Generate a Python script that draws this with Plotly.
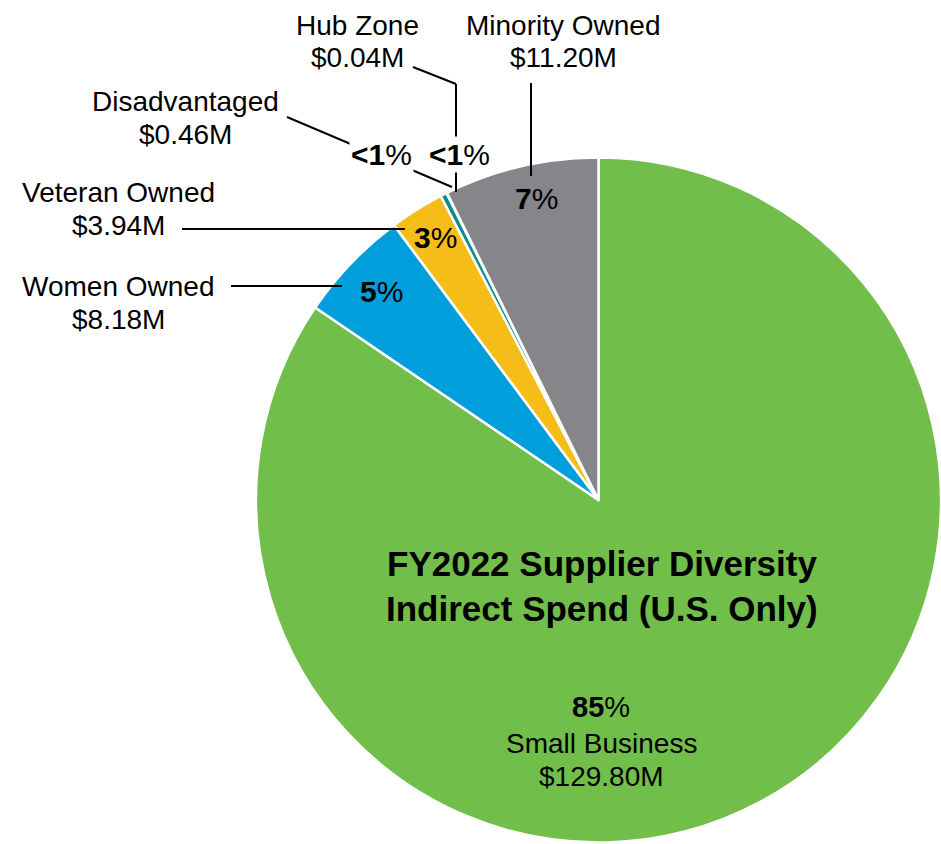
import plotly.graph_objects as go

# FY2022 supplier diversity indirect spend (U.S. only), $ millions
categories = ["Small Business", "Women Owned", "Veteran Owned",
              "Disadvantaged", "Hub Zone", "Minority Owned"]
spend_musd = [129.80, 8.18, 3.94, 0.46, 0.04, 11.20]
share_labels = ["85", "5", "3", "<1", "<1", "7"]  # published share of total, %
slice_colors = ["#72be4a", "#009fdb", "#f6bd18", "#0f8b8c", "#1b5f78", "#868589"]

W, H = 941, 844
FONT = "Liberation Sans, Arial, Helvetica, sans-serif"


def pct_text(i):
    return f"<b>{share_labels[i].replace('<', '&lt;')}</b>%"


def money_text(v):
    return f"${v:.2f}M"


def px(x, y):
    """pixel position -> paper coordinates"""
    return x / W, 1 - y / H


fig = go.Figure(go.Pie(
    labels=categories,
    values=spend_musd,
    sort=False,
    direction="clockwise",
    rotation=0,
    marker=dict(colors=slice_colors, line=dict(color="white", width=2.5)),
    textinfo="none",
    hoverinfo="label+value",
    showlegend=False,
    domain=dict(x=[256 / W, 1.0], y=[1 - (500 + 342.5) / H, 1 - (500 - 342.5) / H]),
))

annotations = []


def add_text(text, x, y, size=28, bg=None):
    ax, ay = px(x, y)
    a = dict(text=text, x=ax, y=ay, xref="paper", yref="paper",
             xanchor="center", yanchor="middle", showarrow=False,
             font=dict(family=FONT, size=size, color="black"))
    if bg:
        a["bgcolor"] = bg
    annotations.append(a)


idx = {c: i for i, c in enumerate(categories)}

# outside labels: name and amount, two lines each
label_pos = {
    "Hub Zone": (357, 25),
    "Minority Owned": (563, 25),
    "Disadvantaged": (185, 101),
    "Veteran Owned": (118, 193),
    "Women Owned": (118, 287),
}
for name, (x, y) in label_pos.items():
    add_text(name, x, y)
    add_text(money_text(spend_musd[idx[name]]), x, y + 33)

# percentage labels on / near each slice
pct_pos = {
    "Minority Owned": (536, 198),
    "Veteran Owned": (435, 238),
    "Women Owned": (381, 291),
    "Disadvantaged": (381, 155),
    "Hub Zone": (459, 155),
}
for name, (x, y) in pct_pos.items():
    i = idx[name]
    bg = "white" if share_labels[i].startswith("<") else None
    add_text(pct_text(i), x, y, size=30, bg=bg)

# big slice: percentage, name, amount
i_sb = idx["Small Business"]
add_text(pct_text(i_sb), 601, 707, size=29)
add_text("Small Business", 601, 743)
add_text(money_text(spend_musd[i_sb]), 601, 776)

# chart title inside the pie
add_text("<b>FY2022 Supplier Diversity</b>", 602, 563, size=35)
add_text("<b>Indirect Spend (U.S. Only)</b>", 602, 608, size=35)

# leader lines from labels to slices
leaders = [
    [(413, 67), (456, 84), (456, 192)],
    [(287, 117), (452, 187)],
    [(531, 83), (531, 176)],
    [(182, 229), (405, 229)],
    [(231, 286), (342, 286)],
]
shapes = []
for pts in leaders:
    for (x0, y0), (x1, y1) in zip(pts[:-1], pts[1:]):
        a0, b0 = px(x0, y0)
        a1, b1 = px(x1, y1)
        shapes.append(dict(type="line", xref="paper", yref="paper",
                           x0=a0, y0=b0, x1=a1, y1=b1, layer="above",
                           line=dict(color="black", width=2)))

fig.update_layout(
    width=W, height=H,
    margin=dict(l=0, r=0, t=0, b=0),
    paper_bgcolor="white", plot_bgcolor="white",
    annotations=annotations,
    shapes=shapes,
)

fig.write_html("out.html")
